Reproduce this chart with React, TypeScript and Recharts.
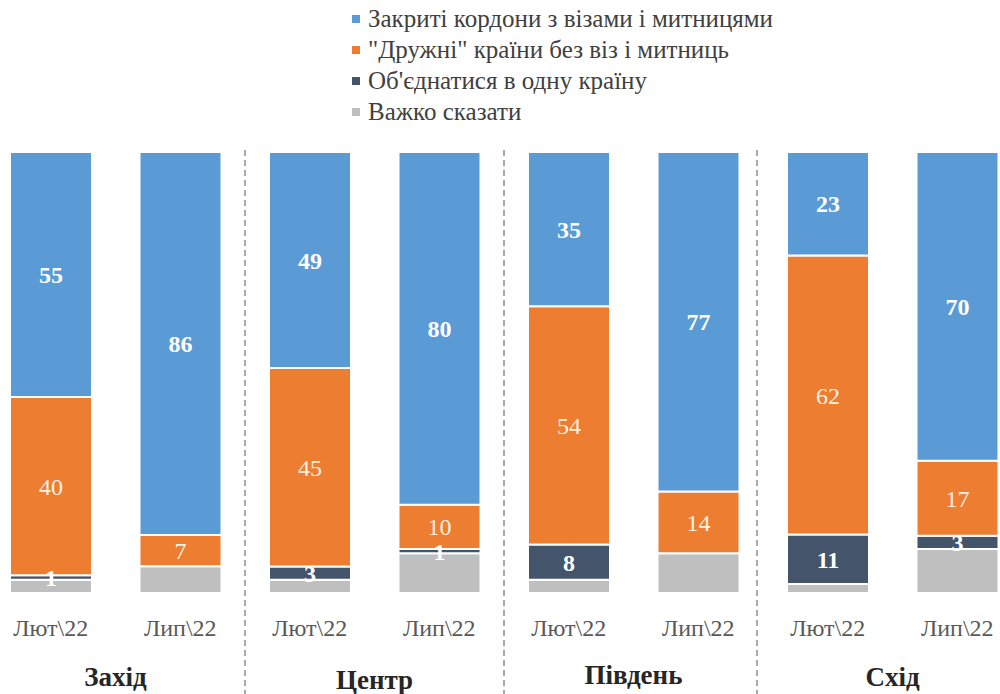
import { BarChart, Bar, XAxis, YAxis, LabelList, Legend } from 'recharts';

// categories: two survey waves per region
const waves = ['Лют\\22', 'Лип\\22', 'Лют\\22', 'Лип\\22', 'Лют\\22', 'Лип\\22', 'Лют\\22', 'Лип\\22'];
const regions = ['Захід', 'Центр', 'Південь', 'Схід'];

// series values, % (bars are drawn as 100% stacks)
const closedBorders = [55, 86, 49, 80, 35, 77, 23, 70];
const friendlyCountries = [40, 7, 45, 10, 54, 14, 62, 17];
const uniteCountry = [1, 0, 3, 1, 8, 0, 11, 3];
const hardToSay = [3, 6, 3, 9, 3, 9, 2, 10];

const seriesNames = [
  'Закриті кордони з візами і митницями',
  '"Дружні" країни без віз і митниць',
  "Об'єднатися в одну країну",
  'Важко сказати',
];

const COLORS = ['#5B9BD5', '#ED7D31', '#44546A', '#BFBFBF'];
const SERIF = "'Liberation Serif', 'Times New Roman', serif";

const CHART_W = 1036;
const CHART_H = 694;
const BAND = CHART_W / waves.length;
const regionY = [686, 689, 684, 686];
const dividerShift = [0, 0, -6];

const data = waves.map((wave, i) => ({
  wave,
  closed: closedBorders[i],
  friendly: friendlyCountries[i],
  unite: uniteCountry[i],
  hard: hardToSay[i],
}));

const hideZero = (v: any) => (v ? v : '');

function WaveTick(props: any) {
  const { x, payload, index } = props;
  const groupRight = index % 2 === 1 && index < waves.length - 1;
  const lineX = groupRight ? x + BAND / 2 + dividerShift[(index - 1) / 2] : 0;
  return (
    <g>
      <text x={x} y={636} textAnchor="middle" fill="#595959" fontSize={24} fontFamily={SERIF}>
        {payload.value}
      </text>
      {index % 2 === 0 && (
        <text
          x={x + BAND / 2}
          y={regionY[index / 2]}
          textAnchor="middle"
          fill="#262626"
          fontSize={27}
          fontWeight="bold"
          fontFamily={SERIF}
        >
          {regions[index / 2]}
        </text>
      )}
      {groupRight && (
        <line x1={lineX} x2={lineX} y1={150} y2={694} stroke="#8c8c8c" strokeWidth={1.5} strokeDasharray="6 4" />
      )}
    </g>
  );
}

function LegendBox() {
  return (
    <div style={{ height: 130, fontFamily: SERIF, fontSize: 25, color: '#404040', paddingTop: 3, boxSizing: 'border-box' }}>
      {seriesNames.map((name, i) => (
        <div key={name} style={{ display: 'flex', alignItems: 'center', height: 31, whiteSpace: 'nowrap' }}>
          <span style={{ width: 8, height: 8, background: COLORS[i], marginRight: 8, display: 'inline-block' }} />
          <span>{name}</span>
        </div>
      ))}
    </div>
  );
}

export default function App() {
  return (
    <div style={{ position: 'fixed', left: 0, top: 0, width: 1000, height: 694, overflow: 'hidden', background: '#fff', fontFamily: SERIF }}>
      <div style={{ position: 'absolute', left: -14, top: 0 }}>
        <BarChart
          width={CHART_W}
          height={CHART_H}
          data={data}
          stackOffset="expand"
          margin={{ top: 22, right: 0, bottom: 0, left: 0 }}
          barSize={82}
        >
          <Legend
            verticalAlign="top"
            content={<LegendBox />}
            wrapperStyle={{ top: 0, left: 366, width: 520 }}
          />
          <XAxis
            dataKey="wave"
            axisLine={false}
            tickLine={false}
            height={101}
            interval={0}
            tick={<WaveTick />}
          />
          <YAxis hide domain={[0, 1]} />
          <Bar dataKey="hard" stackId="a" fill={COLORS[3]} stroke="#fff" strokeWidth={2} isAnimationActive={false} />
          <Bar dataKey="unite" stackId="a" fill={COLORS[2]} stroke="#fff" strokeWidth={2} isAnimationActive={false}>
            <LabelList dataKey="unite" position="center" formatter={hideZero} fill="#fff" fontSize={24} fontWeight="bold" fontFamily={SERIF} />
          </Bar>
          <Bar dataKey="friendly" stackId="a" fill={COLORS[1]} stroke="#fff" strokeWidth={2} isAnimationActive={false}>
            <LabelList dataKey="friendly" position="center" formatter={hideZero} fill="#fdf1e2" fontSize={24} fontFamily={SERIF} />
          </Bar>
          <Bar dataKey="closed" stackId="a" fill={COLORS[0]} stroke="#fff" strokeWidth={2} isAnimationActive={false}>
            <LabelList dataKey="closed" position="center" formatter={hideZero} fill="#fff" fontSize={24} fontWeight="bold" fontFamily={SERIF} />
          </Bar>
        </BarChart>
      </div>
    </div>
  );
}
